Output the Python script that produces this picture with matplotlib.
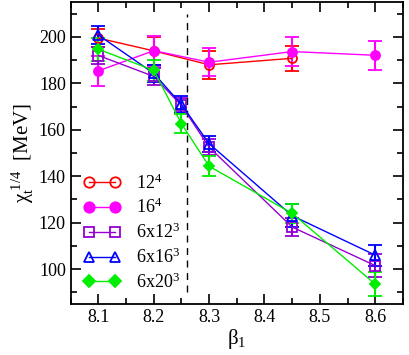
import numpy as np
import matplotlib
matplotlib.use("Agg")
import matplotlib.pyplot as plt
from matplotlib.ticker import MultipleLocator
from matplotlib.lines import Line2D

plt.rcParams['font.family'] = ['Liberation Serif', 'DejaVu Serif']
plt.rcParams['mathtext.fontset'] = 'custom'
plt.rcParams['mathtext.rm'] = 'Liberation Serif'
plt.rcParams['mathtext.it'] = 'Liberation Serif:italic'

# 12^4
b_12 = [8.1, 8.2, 8.3, 8.45]
chi_12 = [199.5, 194.0, 188.0, 190.8]
err_12 = [4.0, 6.0, 6.0, 5.5]

# 16^4
b_16 = [8.1, 8.2, 8.3, 8.45, 8.6]
chi_16 = [185.4, 194.1, 189.1, 193.7, 192.1]
err_16 = [6.5, 6.5, 6.0, 6.3, 6.3]

# 6x12^3
b_612 = [8.1, 8.2, 8.25, 8.3, 8.45, 8.6]
chi_612 = [192.0, 183.0, 170.5, 152.5, 118.1, 101.5]
err_612 = [3.5, 3.5, 3.0, 3.5, 4.0, 5.0]

# 6x16^3
b_616 = [8.1, 8.2, 8.25, 8.3, 8.45, 8.6]
chi_616 = [200.8, 184.3, 170.9, 154.0, 123.0, 106.0]
err_616 = [4.0, 3.5, 3.5, 3.5, 5.0, 4.5]

# 6x20^3
b_620 = [8.1, 8.2, 8.25, 8.3, 8.45, 8.6]
chi_620 = [194.7, 185.6, 162.6, 144.3, 124.0, 93.5]
err_620 = [5.0, 4.6, 4.0, 4.3, 4.0, 5.2]

beta_c = 8.26

fig = plt.figure(figsize=(4.09, 3.55), dpi=100)
ax = fig.add_axes([0.173, 0.144, 0.812, 0.850])

sets = [
    (b_12, chi_12, err_12, '#ff0000', 'o', 'none', '12$^{4}$'),
    (b_16, chi_16, err_16, '#ff00ff', 'o', '#ff00ff', '16$^{4}$'),
    (b_612, chi_612, err_612, '#9400d3', 's', 'none', '6x12$^{3}$'),
    (b_616, chi_616, err_616, '#0000ff', '^', 'none', '6x16$^{3}$'),
    (b_620, chi_620, err_620, '#00ee00', 'D', '#00ee00', '6x20$^{3}$'),
]

handles = []
for b, c, e, col, mk, fc, lab in sets:
    ms = 6.5 if mk != 'D' else 5
    ax.errorbar(b, c, yerr=e, color=col, marker=mk, mfc=fc, mec=col,
                ms=ms, mew=1.3, lw=1.0, elinewidth=1.5, capsize=5,
                capthick=1.5)
    handles.append(Line2D([], [], color=col, marker=mk, mfc=fc, mec=col,
                          ms=ms + 1, mew=1.3, lw=1.0, label=lab))

ax.plot([beta_c, beta_c], [90, 210], ls=(0, (5, 4)), color='black', lw=1.0)

ax.set_xlim(8.05, 8.65)
ax.set_ylim(85, 215)
ax.xaxis.set_major_locator(MultipleLocator(0.1))
ax.xaxis.set_minor_locator(MultipleLocator(0.05))
ax.yaxis.set_major_locator(MultipleLocator(20))
ax.yaxis.set_minor_locator(MultipleLocator(10))
ax.tick_params(which='both', direction='in', top=True, right=True, labelsize=13)
ax.tick_params(which='major', length=7, width=1.2)
ax.tick_params(which='minor', length=4, width=1.2)
for s in ax.spines.values():
    s.set_linewidth(1.3)

ax.set_xlabel('β$_{1}$', fontsize=15, labelpad=1)
ax.set_ylabel('χ$_{\\mathrm{t}}^{\\ 1/4}$  [MeV]', fontsize=15, labelpad=2)

ax.legend(handles=handles, loc='lower left', bbox_to_anchor=(0.04, 0.04),
          frameon=False, fontsize=13, numpoints=2, handlelength=2.0,
          labelspacing=0.3, handletextpad=0.9, borderpad=0, borderaxespad=0)

fig.savefig('out.png', dpi=100)
